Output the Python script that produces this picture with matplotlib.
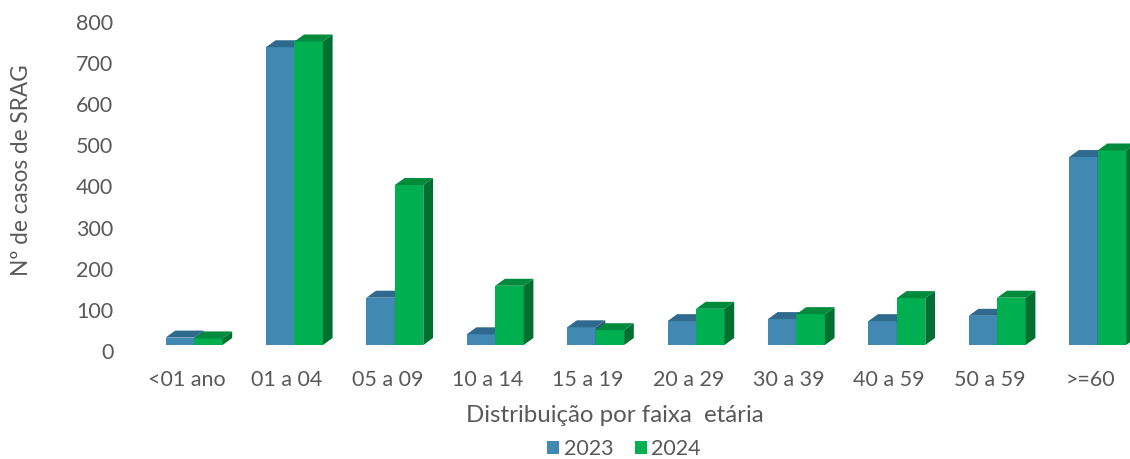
import matplotlib
matplotlib.use("Agg")
import matplotlib.pyplot as plt
from matplotlib.patches import Polygon, Patch

categories = ["<01 ano", "01 a 04", "05 a 09", "10 a 14", "15 a 19",
              "20 a 29", "30 a 39", "40 a 59", "50 a 59", ">=60"]
casos_2023 = [18, 724, 115, 26, 43, 58, 63, 58, 71, 457]
casos_2024 = [16, 738, 389, 144, 36, 88, 75, 114, 115, 473]
y_ticks = [0, 100, 200, 300, 400, 500, 600, 700, 800]

plt.rcParams["font.family"] = ["Lato", "DejaVu Sans"]
text_color = "#595959"

W, H = 1130, 459
fig = plt.figure(figsize=(W / 100, H / 100), dpi=100)
ax_l, ax_b, ax_w, ax_h = 136.3, 108, 1004, 329
ax = fig.add_axes([ax_l / W, ax_b / H, ax_w / W, ax_h / H])
ax.set_xlim(-0.5, len(categories) - 0.5)
ax.set_ylim(0, 800)

# pixels per data unit, used to turn the 3d offsets into data units
px_x = ax_w / len(categories)
px_y = ax_h / 800
off_x, off_y = 7.5 / px_x, 6 / px_y      # front faces sit behind the floor edge
dep_x, dep_y = 9.7 / px_x, 7 / px_y      # bar depth
bw = 28.5 / px_x

series = [
    (casos_2023, -1, "#4189B3", "#2F6A8E", "#2B5F80", "2023"),
    (casos_2024, 0, "#00B050", "#008A3C", "#007030", "2024"),
]

for k, (vals, side, c_front, c_top, c_side, lab) in enumerate(series):
    xs = [i + off_x + side * bw for i in range(len(categories))]
    ax.bar(xs, vals, width=bw, bottom=off_y, align="edge",
           color=c_front, linewidth=0, zorder=2 + k)
    for x0, v in zip(xs, vals):
        x1 = x0 + bw
        y0 = off_y
        y1 = off_y + v
        ax.add_patch(Polygon([(x1, y0), (x1 + dep_x, y0 + dep_y),
                              (x1 + dep_x, y1 + dep_y), (x1, y1)],
                             closed=True, facecolor=c_side, linewidth=0,
                             zorder=2 + k, clip_on=False))
        ax.add_patch(Polygon([(x0, y1), (x1, y1), (x1 + dep_x, y1 + dep_y),
                              (x0 + dep_x, y1 + dep_y)],
                             closed=True, facecolor=c_top, linewidth=0,
                             zorder=2 + k, clip_on=False))

ax.set_xticks(range(len(categories)))
ax.set_xticklabels(categories)
ax.set_yticks(y_ticks)
ax.tick_params(axis="both", length=0, labelsize=15.5, colors=text_color)
ax.tick_params(axis="y", pad=16.5)
ax.tick_params(axis="x", pad=14)
for s in ax.spines.values():
    s.set_visible(False)
ax.patch.set_alpha(0)

fig.text(22 / W, 1 - 170 / H, "Nº de casos de SRAG", rotation=90,
         ha="center", va="center", fontsize=16.3, color=text_color)
fig.text(615 / W, 1 - 415 / H, "Distribuição por faixa  etária",
         ha="center", va="center", fontsize=17.3, color=text_color)

handles = [Patch(facecolor=s[2], label=s[5]) for s in series]
fig.legend(handles=handles, loc="center", bbox_to_anchor=(624 / W, 1 - 449 / H),
           ncol=2, frameon=False, fontsize=15.5, labelcolor=text_color,
           handlelength=0.55, handleheight=0.55, handletextpad=0.2,
           columnspacing=1.0, borderpad=0, borderaxespad=0)

fig.savefig("out.png", dpi=100)
